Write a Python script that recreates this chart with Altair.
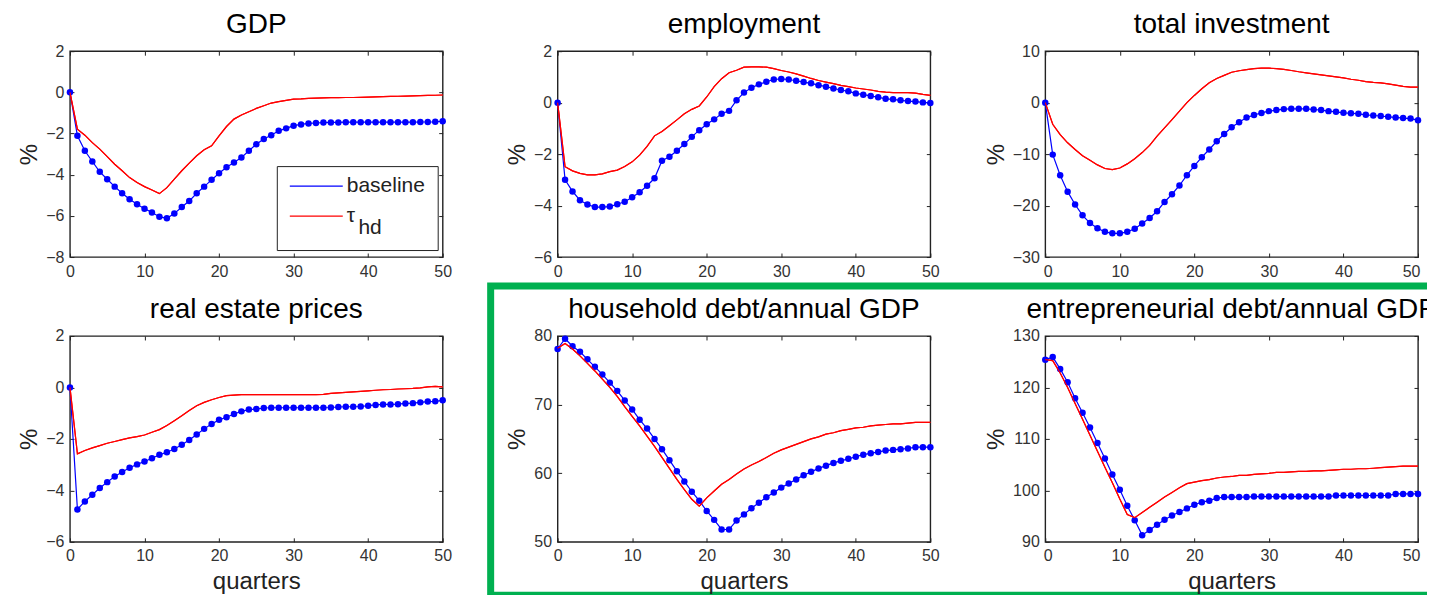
import altair as alt
import pandas as pd

FONT = "Liberation Sans"

QUARTERS = list(range(51))
SERIES = ["baseline", "τhd"]
COLORS = ["#0000ff", "#ff0000"]

TITLES = ["GDP", "employment", "total investment",
          "real estate prices", "household debt/annual GDP",
          "entrepreneurial debt/annual GDP"]
Y_DOMAINS = [[-8, 2], [-6, 2], [-30, 10], [-6, 2], [50, 80], [90, 130]]
Y_TICKS = [[-8, -6, -4, -2, 0, 2], [-6, -4, -2, 0, 2], [-30, -20, -10, 0, 10],
           [-6, -4, -2, 0, 2], [50, 60, 70, 80], [90, 100, 110, 120, 130]]
X_TICKS = [0, 10, 20, 30, 40, 50]

GDP_BASE = [0, -2.11, -2.84, -3.36, -3.86, -4.22, -4.58, -4.90, -5.19, -5.44,
            -5.65, -5.84, -6.04, -6.12, -5.89, -5.57, -5.28, -4.90, -4.58, -4.25,
            -3.93, -3.64, -3.41, -3.17, -2.84, -2.52, -2.27, -2.08, -1.87, -1.75,
            -1.62, -1.56, -1.51, -1.49, -1.47, -1.46, -1.46, -1.45, -1.45, -1.45,
            -1.45, -1.45, -1.45, -1.45, -1.45, -1.45, -1.45, -1.44, -1.44, -1.43,
            -1.40]
GDP_TAU = [0, -1.79, -2.08, -2.44, -2.76, -3.12, -3.49, -3.81, -4.14, -4.38,
           -4.58, -4.74, -4.92, -4.63, -4.22, -3.81, -3.44, -3.08, -2.79, -2.60,
           -2.11, -1.66, -1.30, -1.10, -0.94, -0.78, -0.65, -0.52, -0.45, -0.39,
           -0.33, -0.32, -0.29, -0.28, -0.27, -0.26, -0.26, -0.25, -0.25, -0.24,
           -0.23, -0.22, -0.21, -0.20, -0.19, -0.18, -0.17, -0.16, -0.15, -0.14,
           -0.13]

EMP_BASE = [0, -3.00, -3.45, -3.79, -3.96, -4.06, -4.06, -4.04, -3.95, -3.85,
            -3.68, -3.48, -3.23, -2.94, -2.26, -2.10, -1.87, -1.61, -1.33, -1.07,
            -0.84, -0.65, -0.43, -0.32, 0.09, 0.39, 0.58, 0.71, 0.81, 0.90,
            0.92, 0.90, 0.85, 0.80, 0.75, 0.68, 0.62, 0.55, 0.49, 0.44,
            0.36, 0.31, 0.26, 0.21, 0.15, 0.13, 0.09, 0.06, 0.04, 0.01,
            -0.01]
EMP_TAU = [0, -2.49, -2.65, -2.75, -2.81, -2.81, -2.77, -2.68, -2.62, -2.48,
           -2.30, -2.04, -1.70, -1.29, -1.12, -0.90, -0.67, -0.43, -0.26, -0.13,
           0.22, 0.62, 0.93, 1.16, 1.26, 1.38, 1.39, 1.39, 1.38, 1.32,
           1.25, 1.19, 1.12, 1.03, 0.94, 0.86, 0.80, 0.74, 0.67, 0.62,
           0.57, 0.53, 0.49, 0.44, 0.41, 0.39, 0.39, 0.39, 0.37, 0.32,
           0.28]

INV_BASE = [0, -10.1, -14.1, -17.3, -19.8, -21.9, -23.4, -24.4, -25.1, -25.4,
            -25.4, -25.1, -24.5, -23.5, -22.4, -21.1, -19.3, -17.8, -16.1, -14.1,
            -12.3, -10.6, -9.1, -7.5, -6.1, -4.8, -3.8, -2.9, -2.4, -2.0,
            -1.65, -1.45, -1.26, -1.2, -1.2, -1.2, -1.33, -1.45, -1.65, -1.78,
            -1.97, -2.04, -2.17, -2.36, -2.5, -2.6, -2.75, -2.88, -3.0, -3.1,
            -3.4]
INV_TAU = [0, -4.2, -6.2, -7.8, -9.1, -10.3, -11.2, -12.1, -12.8, -13.0,
           -12.7, -11.9, -10.9, -9.7, -8.3, -6.5, -4.9, -3.3, -1.65, 0.0,
           1.4, 2.7, 3.85, 4.7, 5.3, 5.9, 6.2, 6.4, 6.6, 6.7,
           6.7, 6.6, 6.45, 6.25, 6.0, 5.8, 5.6, 5.4, 5.2, 5.0,
           4.8, 4.55, 4.35, 4.1, 3.95, 3.85, 3.65, 3.4, 3.15, 3.0,
           3.0]

RE_BASE = [0, -4.74, -4.43, -4.17, -3.91, -3.68, -3.46, -3.29, -3.12, -2.99,
           -2.88, -2.75, -2.62, -2.52, -2.39, -2.23, -2.04, -1.83, -1.61, -1.42,
           -1.26, -1.16, -1.03, -0.93, -0.86, -0.84, -0.80, -0.79, -0.79, -0.79,
           -0.79, -0.79, -0.79, -0.79, -0.79, -0.78, -0.76, -0.75, -0.75, -0.74,
           -0.71, -0.68, -0.66, -0.66, -0.65, -0.62, -0.61, -0.58, -0.55, -0.54,
           -0.50]
RE_TAU = [0, -2.58, -2.45, -2.35, -2.26, -2.17, -2.10, -2.03, -1.96, -1.91,
          -1.85, -1.74, -1.64, -1.48, -1.29, -1.10, -0.90, -0.71, -0.58, -0.48,
          -0.39, -0.32, -0.30, -0.28, -0.28, -0.28, -0.28, -0.28, -0.28, -0.28,
          -0.28, -0.28, -0.28, -0.28, -0.27, -0.23, -0.21, -0.19, -0.17, -0.15,
          -0.13, -0.11, -0.09, -0.08, -0.06, -0.05, -0.04, -0.02, 0.02, 0.04,
          0.02]

HH_BASE = [78.1, 79.6, 78.5, 77.7, 76.6, 75.5, 74.4, 73.2, 72.0, 70.6,
           69.3, 67.8, 66.5, 65.0, 63.5, 61.9, 60.3, 58.8, 57.3, 56.0,
           54.5, 53.2, 51.8, 51.8, 53.1, 54.0, 54.9, 55.7, 56.5, 57.2,
           57.9, 58.5, 59.1, 59.7, 60.2, 60.7, 61.1, 61.5, 61.8, 62.1,
           62.4, 62.7, 62.9, 63.1, 63.3, 63.4, 63.5, 63.6, 63.8, 63.8,
           63.8]
HH_TAU = [78.2, 78.9, 78.1, 77.1, 76.0, 74.9, 73.7, 72.5, 71.2, 69.7,
          68.3, 66.9, 65.4, 63.9, 62.3, 60.7, 59.1, 57.6, 56.2, 55.2,
          56.4, 57.4, 58.4, 59.1, 59.9, 60.6, 61.2, 61.7, 62.3, 62.9,
          63.4, 63.8, 64.2, 64.6, 65.0, 65.3, 65.7, 65.9, 66.2, 66.4,
          66.6, 66.7, 66.9, 67.0, 67.1, 67.2, 67.2, 67.3, 67.4, 67.4,
          67.4]

ENT_BASE = [125.4, 125.9, 123.6, 121.0, 117.9, 115.1, 112.2, 109.2, 106.2, 103.1,
            100.1, 97.0, 94.2, 91.3, 92.3, 93.3, 94.3, 95.1, 95.8, 96.5,
            97.2, 97.7, 98.0, 98.5, 98.7, 98.7, 98.7, 98.7, 98.8, 98.8,
            98.8, 98.8, 98.8, 98.8, 98.8, 98.8, 98.8, 98.8, 98.8, 99.0,
            99.0, 99.0, 99.0, 99.0, 99.0, 99.0, 99.0, 99.3, 99.3, 99.3,
            99.3]
ENT_TAU = [125.4, 125.2, 122.8, 120.0, 116.9, 113.8, 110.7, 107.6, 104.5, 101.5,
           98.3, 95.3, 94.7, 95.7, 96.7, 97.7, 98.7, 99.6, 100.5, 101.3,
           101.6, 101.9, 102.1, 102.4, 102.6, 102.7, 102.9, 102.9, 103.1, 103.2,
           103.3, 103.5, 103.5, 103.6, 103.7, 103.7, 103.8, 103.8, 103.9, 104.0,
           104.1, 104.1, 104.2, 104.2, 104.3, 104.4, 104.5, 104.6, 104.7, 104.7,
           104.7]

BASE = [GDP_BASE, EMP_BASE, INV_BASE, RE_BASE, HH_BASE, ENT_BASE]
TAU = [GDP_TAU, EMP_TAU, INV_TAU, RE_TAU, HH_TAU, ENT_TAU]

W, H = 373, 206

# zero-width space keeps the no-break spaces from being trimmed away
LABEL_EXPR = "datum.value == 'τhd' ? ['τ', '\u200b\u00a0\u00a0hd'] : datum.label"


def make_legend(multiline):
    kw = dict(
        title=None, orient="none", legendX=207, legendY=115,
        direction="vertical", padding=12, strokeColor="#222",
        fillColor="white", symbolSize=2809, symbolStrokeWidth=1.2,
        symbolType="stroke", labelFont=FONT, labelFontSize=21,
        labelColor="#222", labelOffset=3, clipHeight=16, rowPadding=9,
    )
    if multiline:
        kw["labelExpr"] = LABEL_EXPR
    return alt.Legend(**kw)


def panel(i, multiline):
    base, tau = BASE[i], TAU[i]
    df = pd.DataFrame({
        "quarter": QUARTERS + QUARTERS,
        "value": base + tau,
        "series": [SERIES[0]] * len(base) + [SERIES[1]] * len(tau),
    })
    bottom = i >= 3
    right_col = i in (2, 5)
    xaxis = dict(values=X_TICKS, title="quarters" if bottom else None)
    if right_col:
        xaxis.update(labelFlush=True, labelFlushOffset=2)
    x = alt.X("quarter:Q",
              scale=alt.Scale(domain=[0, 50], nice=False, zero=False),
              axis=alt.Axis(**xaxis))
    y = alt.Y("value:Q",
              scale=alt.Scale(domain=Y_DOMAINS[i], nice=False, zero=False),
              axis=alt.Axis(values=Y_TICKS[i], title="%"))
    color = alt.Color("series:N",
                      scale=alt.Scale(domain=SERIES, range=COLORS),
                      legend=make_legend(multiline) if i == 0 else None)
    src = alt.Chart(df)
    lines = src.mark_line(strokeWidth=1.2).encode(x=x, y=y, color=color)
    dots = src.transform_filter(alt.datum.series == SERIES[0]).mark_circle(
        size=42, opacity=1, color=COLORS[0]).encode(x=x, y=y)
    red = src.transform_filter(alt.datum.series == SERIES[1]).mark_line(
        strokeWidth=1.2, color=COLORS[1]).encode(x=x, y=y)
    layers = [lines, dots, red]
    if i == 1:
        # green highlight frame around the two lower-right panels
        box = alt.Chart(pd.DataFrame({"k": [0]})).mark_rect(
            filled=False, stroke="#00b050", strokeWidth=7).encode(
            x=alt.value(-67), x2=alt.value(892),
            y=alt.value(235), y2=alt.value(544.5))
        layers.append(box)
    return alt.layer(*layers).properties(width=W, height=H, title=TITLES[i])


def build(multiline, styled, top, bottom_pad):
    charts = [panel(i, multiline) for i in range(6)]
    c = alt.concat(*charts, columns=3, spacing={"row": 79, "column": 115}).properties(
        bounds="flush",
        padding={"left": 9, "top": top, "right": -27, "bottom": bottom_pad},
    ).resolve_scale(
        color="independent", x="independent", y="independent"
    )
    if styled:
        c = c.configure(style={"guide-label": {"lineHeight": 12}})
    return c.configure_view(
        stroke="#222", strokeWidth=1.4
    ).configure_axis(
        domain=False, ticks=False, grid=True, gridColor="#222", gridWidth=1,
        gridOpacity=1, labelFont=FONT, labelFontSize=16, labelColor="#333",
        labelPadding=6, labelFlush=False, titleFont=FONT, titleFontSize=24,
        titleFontWeight="normal", titleColor="#222",
    ).configure_axisX(
        gridDash=[4, H - 8], titlePadding=6
    ).configure_axisY(
        gridDash=[4, W - 8], titlePadding=4
    ).configure_title(
        font=FONT, fontSize=28, fontWeight="normal", color="black", offset=0
    )


chart = None
for args in ((True, True, 2, -5), (True, True, 0, -3), (False, False, 0, -3)):
    try:
        cand = build(*args)
        cand.to_dict()
        chart = cand
        break
    except Exception:
        continue

chart.save("out.html", embed_options={"renderer": "svg", "actions": False})
